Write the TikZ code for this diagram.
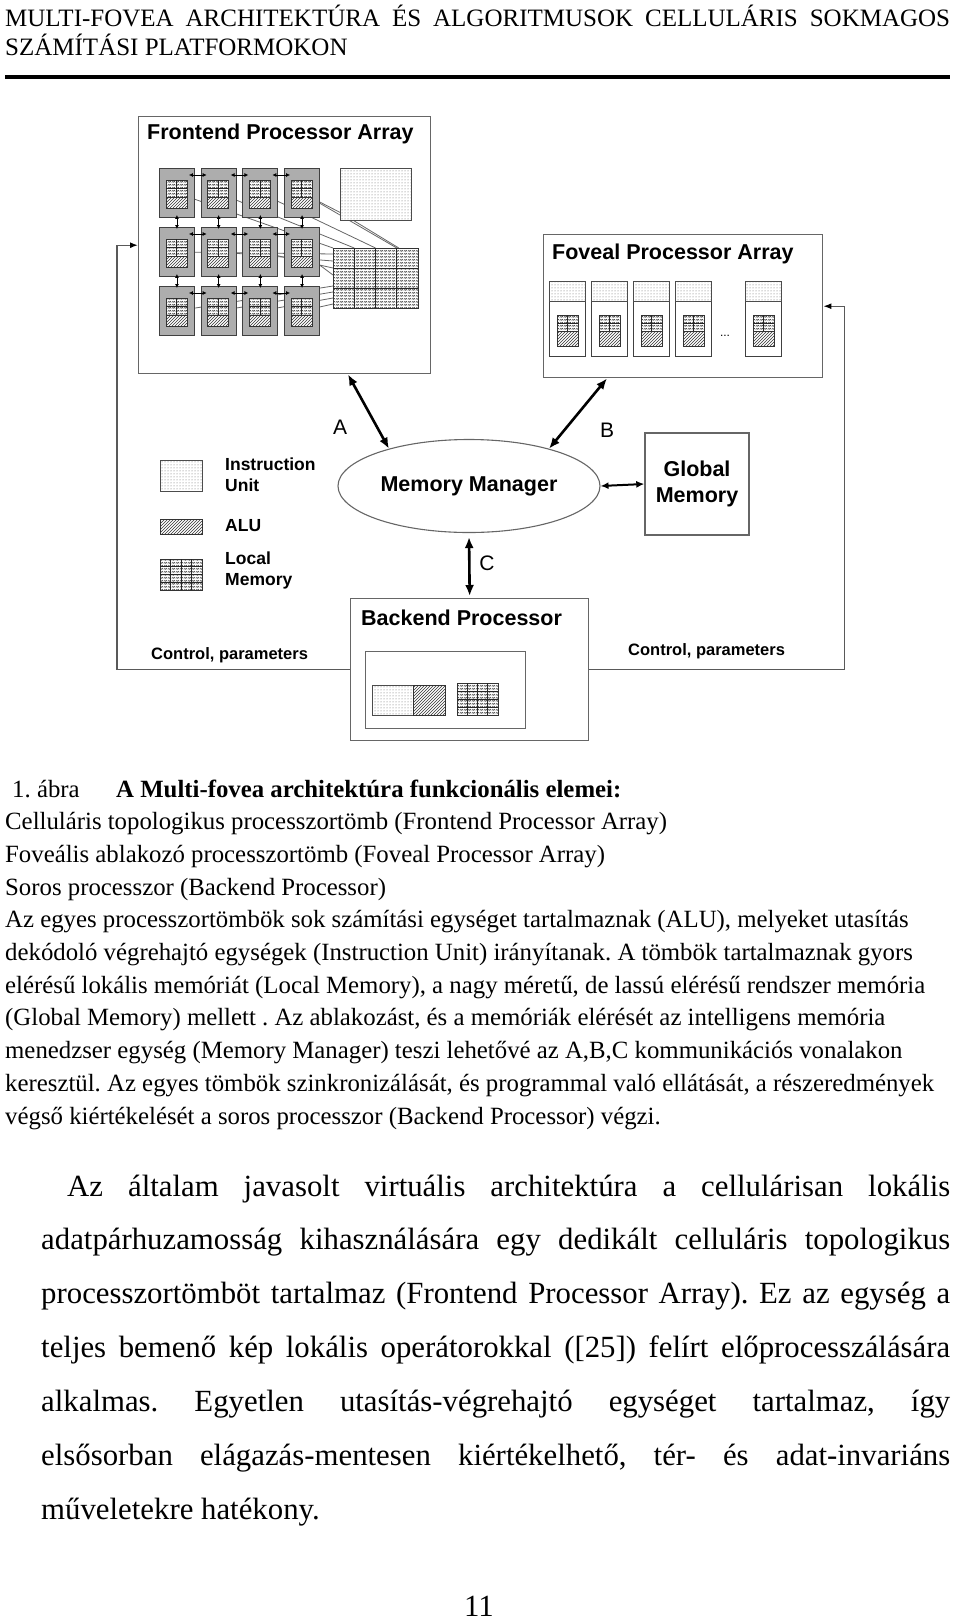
\documentclass[tikz,border=0pt]{standalone}
\usepackage{fontspec}
\setmainfont{Liberation Serif}
\newfontfamily\diafont{Liberation Sans}
\usetikzlibrary{patterns,arrows.meta,shapes.geometric,positioning,backgrounds}

\pgfdeclarepatternformonly{waves}{\pgfqpoint{0pt}{0pt}}{\pgfqpoint{4pt}{3pt}}{\pgfqpoint{4pt}{3pt}}{%
  \pgfsetlinewidth{0.6pt}%
  \pgfpathmoveto{\pgfqpoint{0pt}{0.8pt}}%
  \pgfpathlineto{\pgfqpoint{1pt}{2.2pt}}%
  \pgfpathlineto{\pgfqpoint{2pt}{0.8pt}}%
  \pgfpathlineto{\pgfqpoint{3pt}{2.2pt}}%
  \pgfpathlineto{\pgfqpoint{4pt}{0.8pt}}%
  \pgfusepath{stroke}}

\tikzset{
  frame/.style={draw=black!60, line width=1.4pt, inner sep=0pt},
  cell/.style={draw=black!75, fill=black!32, line width=0.9pt, minimum width=35pt,
    minimum height=49pt, inner sep=0pt, anchor=north west},
  fcell/.style={draw=black!75, fill=white, line width=0.9pt, minimum width=36pt,
    minimum height=75pt, inner sep=0pt, anchor=north west},
  iu/.style={draw=black!70, line width=0.8pt, preaction={fill=white}, pattern=dots, pattern color=black!60},
  alu/.style={draw=black!80, line width=0.8pt, preaction={fill=white}, pattern=north east lines, pattern color=black!80},
  lm/.style={draw=black!80, line width=0.8pt, preaction={fill=white}, pattern=waves, pattern color=black!70},
  lmgrid/.style={draw=black!85, line width=0.6pt},
  bus/.style={draw=black!60, line width=0.8pt},
  link/.style={{Latex[length=4pt,width=4pt]}-{Latex[length=4pt,width=4pt]}, line width=0.9pt},
  link2/.style={{Latex[length=8pt,width=7pt]}-{Latex[length=8pt,width=7pt]}, line width=2pt},
  bigarrow/.style={{Latex[length=11pt,width=9pt]}-{Latex[length=11pt,width=9pt]}, line width=2.6pt},
  ctl/.style={draw=black!65, line width=1.4pt, -{Latex[length=8pt,width=6pt,color=black]}},
  title/.style={font=\diafont\bfseries\fontsize{21.5}{24}\selectfont, anchor=west, inner sep=0pt},
  lgd/.style={font=\diafont\bfseries\fontsize{17.5}{21}\selectfont, anchor=west, inner sep=0pt, align=left},
  lbl/.style={font=\diafont\fontsize{21}{24}\selectfont, inner sep=0pt},
  ctltext/.style={font=\diafont\bfseries\fontsize{16.5}{18}\selectfont, anchor=west, inner sep=0pt},
  headtext/.style={font=\fontsize{25}{29}\selectfont, anchor=base west, inner sep=0pt},
  captext/.style={font=\frenchspacing\fontsize{24.8}{33}\selectfont, anchor=base west, inner sep=0pt},
  bodytext/.style={font=\frenchspacing\fontsize{30.8}{54}\selectfont, anchor=base west, inner sep=0pt},
}

\begin{document}
\begin{tikzpicture}[x=1pt,y=-1pt]
\useasboundingbox (0,0) rectangle (960,1620);

% page header
\node[headtext] (head1) at (5,26) {\hbox to 945pt{MULTI-FOVEA ARCHITEKTÚRA ÉS ALGORITMUSOK CELLULÁRIS SOKMAGOS}};
\node[headtext] (head2) at (5,55) {SZÁMÍTÁSI PLATFORMOKON};
\draw[line width=4pt] (5,77) -- (950,77);

% frontend processor array
\node[frame, anchor=north west, minimum width=292pt, minimum height=257pt] (fpa) at (138,116) {};
\node[title] (fpat) at (147,134) {Frontend Processor Array};
\foreach \i in {0,...,3}
  \foreach \j in {0,1,2}{
    \pgfmathsetmacro\cx{159+41.7*\i}
    \pgfmathsetmacro\cy{168+59*\j}
    \node[cell] (c\i\j) at (\cx,\cy) {};
    \draw[lm] (\cx+7,\cy+12) rectangle ++(21,17);
    \draw[alu] (\cx+7,\cy+29) rectangle ++(21,11);
    \draw[lmgrid] (\cx+17.5,\cy+12) -- ++(0,17) (\cx+7,\cy+20.5) -- ++(21,0);
  }
\foreach \i [count=\k] in {0,1,2}
  \foreach \j in {0,1,2}
    \draw[link] ([xshift=-6pt,yshift=-7pt]c\i\j.north east) -- ([xshift=6pt,yshift=-7pt]c\k\j.north west);
\foreach \i in {0,...,3}
  \foreach \j [count=\k] in {0,1}
    \draw[link] ([yshift=3pt]c\i\j.south) -- ([yshift=-2pt]c\i\k.north);

\node[iu, anchor=north west, minimum width=71pt, minimum height=52pt, inner sep=0pt] (fiu) at (340,168) {};
\node[lm, anchor=north west, minimum width=85pt, minimum height=60pt, inner sep=0pt] (flm) at (333,248) {};
\foreach \k in {1,2,3}
  \draw[lmgrid] (333+21.25*\k,248) -- ++(0,60);
\foreach \k in {1,2}
  \draw[lmgrid] (333,248+20*\k) -- ++(85,0);

\begin{pgfonlayer}{background}
  \foreach \i in {0,...,3}{
    \draw[bus] (c\i0.center) -- ([xshift=21.25*\i]flm.north west);
    \draw[bus] (c\i1.center) -- ([yshift=-(6+7*\i)]flm.north west);
    \draw[bus] (c\i2.center) -- ([yshift=-(38+6*\i)]flm.north west);
  }
  \draw[bus] (c30.center) -- ([yshift=-18pt]fiu.west);
  \draw[bus] ([xshift=14pt]fiu.south west) -- ([xshift=-20pt]flm.north east);
\end{pgfonlayer}

% foveal processor array
\node[frame, anchor=north west, minimum width=279pt, minimum height=143pt] (fov) at (543,234) {};
\node[title] (fovt) at (552,254) {Foveal Processor Array};
\foreach \x [count=\n] in {549,591,633,675,745}{
  \node[fcell] (v\n) at (\x,281) {};
  \draw[iu] (\x,281) rectangle ++(36,20);
  \draw[lm] (\x+8,315) rectangle ++(21,16);
  \draw[alu] (\x+8,331) rectangle ++(21,15);
  \draw[lmgrid] (\x+18.5,315) -- ++(0,16) (\x+8,323) -- ++(21,0);
}
\node[font=\diafont\fontsize{12}{12}\selectfont, inner sep=0pt] (vdots) at (725,336) {...};

% memory manager, global memory, backend
\node[ellipse, draw=black!60, line width=1.1pt, minimum width=262pt, minimum height=93pt, inner sep=0pt,
  font=\diafont\bfseries\fontsize{21.5}{24}\selectfont] (mm) at (469,486) {Memory Manager};
\node[frame, minimum width=104pt, minimum height=102pt, align=center,
  font=\diafont\bfseries\fontsize{21.5}{26}\selectfont] (gm) at (697,484) {Global\\Memory};
\node[frame, anchor=north west, minimum width=238pt, minimum height=142pt] (bp) at (350,598) {};
\node[title] (bpt) at (361,618) {Backend Processor};
\node[frame, line width=1.1pt, anchor=north west, minimum width=160pt, minimum height=77pt] (bpin) at (365,651) {};
\draw[iu] (372,685) rectangle (413,715);
\draw[alu] (413,685) rectangle (445,715);
\draw[lm] (457,683) rectangle (498,715);
\foreach \k in {1,2,3}
  \draw[lmgrid] (457+10.25*\k,683) -- ++(0,32) (457,683+8*\k) -- ++(41,0);

% legend
\draw[iu] (160,460) rectangle (202,491);
\draw[alu] (160,519) rectangle (202,534);
\draw[lm] (160,559) rectangle (202,590);
\foreach \k in {1,2,3}
  \draw[lmgrid] (160+10.5*\k,559) -- ++(0,31) (160,559+7.75*\k) -- ++(42,0);
\node[lgd] (lgiu) at (225,474.5) {Instruction\\Unit};
\node[lgd] (lgalu) at (225,526) {ALU};
\node[lgd] (lglm) at (225,570.5) {Local\\Memory};

% control lines
\draw[ctl] (bp.west) -| ([xshift=-21pt]fpa.west) -- (fpa.west);
\draw[ctl] (bp.east) -| ([xshift=21pt]fov.east) -- (fov.east);
\node[ctltext] (ctl1) at (151,655) {Control, parameters};
\node[ctltext] (ctl2) at (628,651) {Control, parameters};

% A, B, C
\draw[bigarrow] ([xshift=210pt]fpa.south west) -- (mm.155);
\draw[bigarrow] ([xshift=64pt]fov.south west) -- (mm.25);
\draw[bigarrow, shorten <=4pt, shorten >=2pt] (mm.south) -- (bp.north);
\draw[link2] (mm.east) -- (gm.west);
\node[lbl] (la) at (340,427) {A};
\node[lbl] (lb) at (607,430) {B};
\node[lbl] (lc) at (487,563) {C};

% caption
\node[captext] (fig) at (12,797) {1. ábra};
\node[captext, font=\bfseries\fontsize{24.8}{33}\selectfont] (figt) at (116,797) {A Multi-fovea architektúra funkcionális elemei:};
\foreach \txt [count=\n] in {
  {Celluláris topologikus processzortömb (Frontend Processor Array)},
  {Foveális ablakozó processzortömb (Foveal Processor Array)},
  {Soros processzor (Backend Processor)},
  {Az egyes processzortömbök sok számítási egységet tartalmaznak (ALU), melyeket utasítás},
  {dekódoló végrehajtó egységek (Instruction Unit) irányítanak. A tömbök tartalmaznak gyors},
  {elérésű lokális memóriát (Local Memory), a nagy méretű, de lassú elérésű rendszer memória},
  {(Global Memory) mellett . Az ablakozást, és a memóriák elérését az intelligens memória},
  {menedzser egység (Memory Manager) teszi lehetővé az A,B,C kommunikációs vonalakon},
  {keresztül. Az egyes tömbök szinkronizálását, és programmal való ellátását, a részeredmények},
  {végső kiértékelését a soros processzor (Backend Processor) végzi.}}
  \node[captext] (cap\n) at (5,797+32.7*\n) {\txt};

% body text
\node[bodytext] (body0) at (67,1196) {\hbox to 883pt{Az általam javasolt virtuális architektúra a cellulárisan lokális}};
\foreach \txt [count=\n] in {
  {adatpárhuzamosság kihasználására egy dedikált celluláris topologikus},
  {processzortömböt tartalmaz (Frontend Processor Array). Ez az egység a},
  {teljes bemenő kép lokális operátorokkal ([25]) felírt előprocesszálására},
  {alkalmas. Egyetlen utasítás-végrehajtó egységet tartalmaz, így},
  {elsősorban elágazás-mentesen kiértékelhető, tér- és adat-invariáns}}
  \node[bodytext] (body\n) at (41,1196+53.9*\n) {\hbox to 909pt{\txt}};
\node[bodytext] (body6) at (41,1519.4) {műveletekre hatékony.};

\node[bodytext, anchor=base] (pnum) at (479,1616) {11};
\end{tikzpicture}
\end{document}
